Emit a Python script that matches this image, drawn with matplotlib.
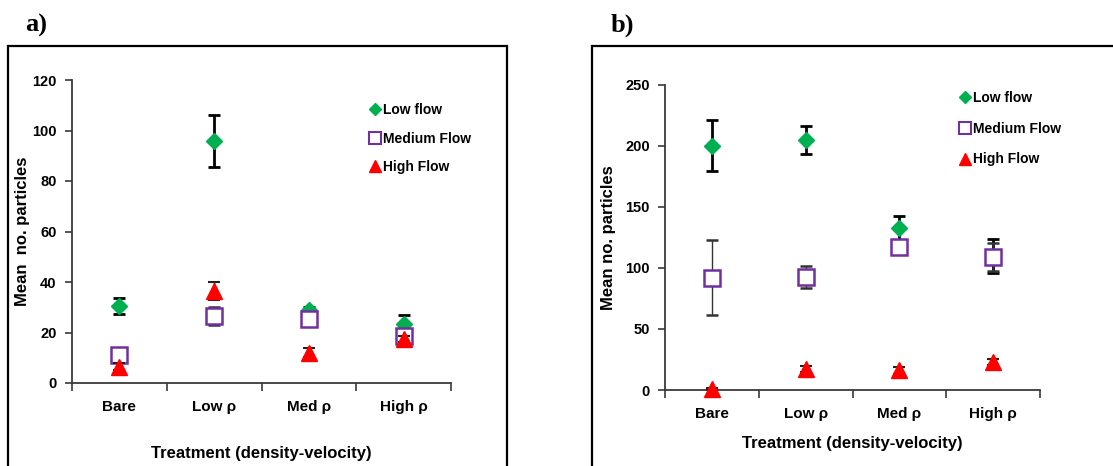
import numpy as np
import matplotlib
matplotlib.use("Agg")
import matplotlib.pyplot as plt
from matplotlib.patches import Rectangle
from matplotlib.lines import Line2D

plt.rcParams["font.family"] = ["Liberation Sans", "DejaVu Sans"]

treatments = ["Bare", "Low ρ", "Med ρ", "High ρ"]
series = ["Low flow", "Medium Flow", "High Flow"]

# panel a: mean particles and error (+/-)
a_low = [30.5, 96.0, 29.0, 23.5]
a_low_err = [3.2, 10.3, 1.0, 3.3]
a_med = [11.0, 26.5, 25.5, 18.5]
a_med_err = [1.5, 3.6, 2.5, 1.5]
a_high = [6.5, 36.5, 12.0, 17.5]
a_high_err = [1.5, 3.5, 1.8, 1.2]

# panel b
b_low = [200.0, 205.0, 133.0, 110.0]
b_low_err = [21.0, 11.5, 9.8, 14.0]
b_med = [92.0, 92.5, 117.0, 109.0]
b_med_err = [30.5, 9.3, 4.0, 11.5]
b_high = [1.0, 17.0, 16.0, 23.0]
b_high_err = [1.0, 2.5, 2.5, 2.5]

GREEN, PURPLE, RED = "#00B050", "#7030A0", "#FF0000"
SPINE = "#3a3a3a"

fig = plt.figure(figsize=(11.13, 4.66), dpi=100)

# outer frames around each panel
fig.patches.append(Rectangle((8 / 1113, -0.05), 499 / 1113, 1.05 - 46 / 466,
                             transform=fig.transFigure, fill=False, lw=1.6, ec="black"))
fig.patches.append(Rectangle((592 / 1113, -0.05), 0.5, 1.05 - 46 / 466,
                             transform=fig.transFigure, fill=False, lw=1.6, ec="black"))
fig.text(25 / 1113, 1 - 25 / 466, "a)", family="Liberation Serif", weight="bold",
         fontsize=19, va="center")
fig.text(611 / 1113, 1 - 25 / 466, "b)", family="Liberation Serif", weight="bold",
         fontsize=19, va="center")


def panel(rect, low, low_e, med, med_e, high, high_e, ymax, ystep, ylabel,
          ylab_x, xlab_pad, leg_anchor, leg_space):
    ax = fig.add_axes(rect)
    x = np.arange(1, len(treatments) + 1)
    ax.errorbar(x, low, yerr=low_e, fmt="D", color=GREEN, ms=8.5, mec=GREEN,
                ecolor="black", elinewidth=2, capsize=4, capthick=2, zorder=3,
                label=series[0])
    ax.errorbar(x, med, yerr=med_e, fmt="s", color=PURPLE, ms=11, mfc="white",
                mec=PURPLE, mew=1.8, ecolor="#333333", elinewidth=1, capsize=4,
                capthick=1.2, zorder=4, label=series[1])
    eb = ax.errorbar(x, high, yerr=high_e, fmt="^", color=RED, ms=11, mec=RED,
                     ecolor="#222222", elinewidth=1, capsize=4, capthick=1.5, zorder=5,
                     label=series[2])
    eb[0].set_clip_on(False)
    ax.set_xlim(0.5, len(treatments) + 0.5)
    ax.set_ylim(0, ymax)
    ax.set_yticks(np.arange(0, ymax + 1, ystep))
    ax.set_xticks(np.arange(0.5, len(treatments) + 1, 1))
    ax.set_xticklabels([])
    ax.set_xticks(x, minor=True)
    ax.set_xticklabels(treatments, minor=True)
    ax.tick_params(axis="x", which="major", direction="out", length=6, width=1.2,
                   color=SPINE)
    ax.tick_params(axis="x", which="minor", length=0, pad=12, labelsize=11)
    ax.tick_params(axis="y", direction="out", length=5, width=1.2, color=SPINE,
                   labelsize=10.5, pad=6)
    for lbl in ax.get_xticklabels(minor=True) + ax.get_yticklabels():
        lbl.set_fontweight("bold")
    for s in ["top", "right"]:
        ax.spines[s].set_visible(False)
    for s in ["left", "bottom"]:
        ax.spines[s].set_color(SPINE)
        ax.spines[s].set_linewidth(1.3)
    ax.set_xlabel("Treatment (density-velocity)", fontsize=12, weight="bold",
                  labelpad=xlab_pad)
    ax.set_ylabel(ylabel, fontsize=12, weight="bold")
    ax.yaxis.set_label_coords(ylab_x, 0.5)
    handles = [Line2D([], [], ls="", marker="D", color=GREEN, ms=6),
               Line2D([], [], ls="", marker="s", mfc="white", mec=PURPLE, mew=1.5, ms=8),
               Line2D([], [], ls="", marker="^", color=RED, ms=8)]
    ax.legend(handles, series, loc="upper left", bbox_to_anchor=leg_anchor,
              frameon=False, handletextpad=-0.2, labelspacing=leg_space,
              handlelength=1.5, prop={"weight": "bold", "size": 10})
    return ax


panel([72 / 1113, 1 - 383 / 466, 379 / 1113, 303 / 466],
      a_low, a_low_err, a_med, a_med_err, a_high, a_high_err,
      120, 20, "Mean  no. particles", -0.11, 23, (0.74, 0.965), 1.05)
panel([665 / 1113, 1 - 390 / 466, 375 / 1113, 305.3 / 466],
      b_low, b_low_err, b_med, b_med_err, b_high, b_high_err,
      250, 50, "Mean no. particles", -0.13, 11, (0.74, 1.02), 1.2)

fig.savefig("out.png", dpi=100)
